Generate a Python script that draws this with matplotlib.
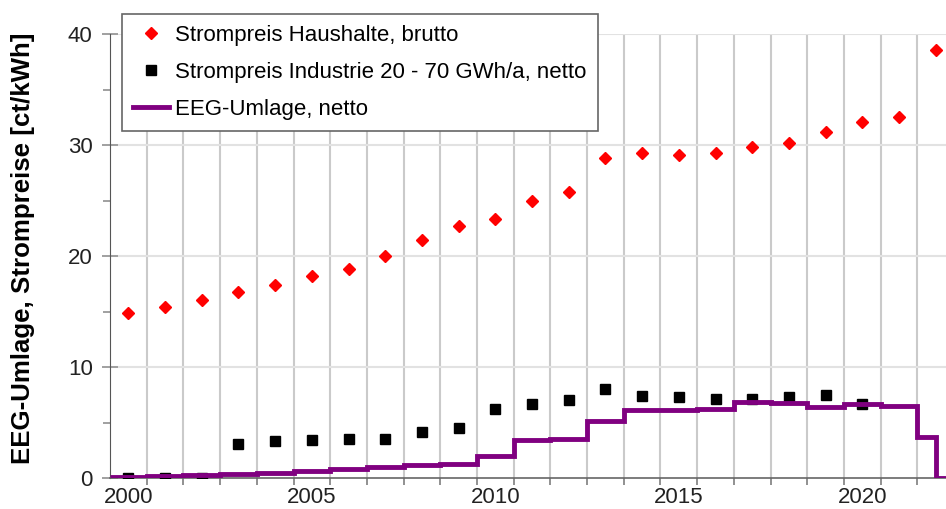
import numpy as np
import matplotlib.pyplot as plt
from matplotlib.ticker import MultipleLocator, FixedLocator

plt.rcParams['font.family'] = ['Liberation Sans', 'DejaVu Sans']

years = np.arange(2000, 2023)

# Strompreis Haushalte, brutto [ct/kWh]
haushalte = [14.9, 15.4, 16.0, 16.8, 17.4, 18.2, 18.8, 20.0, 21.4, 22.7, 23.3,
             25.0, 25.8, 28.8, 29.3, 29.1, 29.3, 29.8, 30.2, 31.2, 32.1, 32.5, 38.6]

# Strompreis Industrie 20 - 70 GWh/a, netto (2000-2020)
ind_years = np.arange(2000, 2021)
industrie = [0.0, 0.0, 0.0, 3.1, 3.3, 3.4, 3.5, 3.5, 4.1, 4.5, 6.2,
             6.7, 7.0, 8.0, 7.4, 7.3, 7.1, 7.1, 7.3, 7.5, 6.7]

# EEG-Umlage, netto: one value per year 2000-2021, 2022 first half, then 0
eeg = [0.12, 0.2, 0.3, 0.35, 0.45, 0.63, 0.85, 1.0, 1.15, 1.25, 2.0,
       3.45, 3.52, 5.15, 6.15, 6.1, 6.25, 6.85, 6.77, 6.38, 6.7, 6.45, 3.65, 0.0]
eeg_edges = list(np.arange(1999.5, 2022.0, 1.0)) + [2022.0, 2022.5]

fig = plt.figure(figsize=(9.46, 5.09), dpi=100)
ax = fig.add_axes([0.1163, 0.0609, 0.8837, 0.8723])

ax.set_xlim(1999.5, 2022.28)
ax.set_ylim(0, 40)

# grid
for x in np.arange(2000.5, 2022.5, 1.0):
    ax.axvline(x, color='#cacaca', lw=1.5, zorder=0)
for y in [10, 20, 30, 40]:
    ax.axhline(y, color='#e2e2e2', lw=1.5, zorder=0)

ax.plot(years, haushalte, ls='none', marker='D', ms=6.5, color='#ff0000',
        mec='#ff0000', label='Strompreis Haushalte, brutto', zorder=3)
ax.plot(ind_years, industrie, ls='none', marker='s', ms=7.3, color='black',
        label='Strompreis Industrie 20 - 70 GWh/a, netto', zorder=3)
ax.stairs(eeg, eeg_edges, color='#800080', lw=3.5, baseline=None,
          label='EEG-Umlage, netto', zorder=4)

# axes styling
for s in ['top', 'right']:
    ax.spines[s].set_visible(False)
ax.spines['left'].set_color('#555555')
ax.spines['bottom'].set_color('#666666')
ax.spines['bottom'].set_linewidth(1.2)

ax.yaxis.set_major_locator(MultipleLocator(10))
ax.yaxis.set_minor_locator(MultipleLocator(5))
ax.tick_params(axis='y', which='major', direction='inout', length=11,
               width=1.3, color='#999999', labelsize=16, labelcolor='#222222', pad=7)
ax.tick_params(axis='y', which='minor', direction='out', length=5,
               width=1.3, color='#999999')

ax.set_xticks([2000, 2005, 2010, 2015, 2020])
ax.xaxis.set_minor_locator(FixedLocator(np.arange(2000.5, 2022.5, 1.0)))
ax.tick_params(axis='x', which='major', length=0, labelsize=16,
               labelcolor='#222222', pad=6.5)
ax.tick_params(axis='x', which='minor', direction='out', length=5,
               width=1.3, color='#888888')

fig.text(23 / 946, 1 - 248 / 509, 'EEG-Umlage, Strompreise [ct/kWh]',
         rotation=90, ha='center', va='center', fontsize=18.6,
         fontweight='bold', color='black')

leg = ax.legend(loc='upper left', bbox_to_anchor=(122 / 946, 1 - 14 / 509),
                bbox_transform=fig.transFigure, fontsize=16, frameon=True,
                fancybox=False, edgecolor='#666666', framealpha=1,
                handlelength=1.6, handletextpad=0.3, borderpad=0.5,
                labelspacing=0.72, borderaxespad=0)
leg.get_frame().set_linewidth(1.2)
leg.set_zorder(10)

fig.savefig('out.png', dpi=100)
